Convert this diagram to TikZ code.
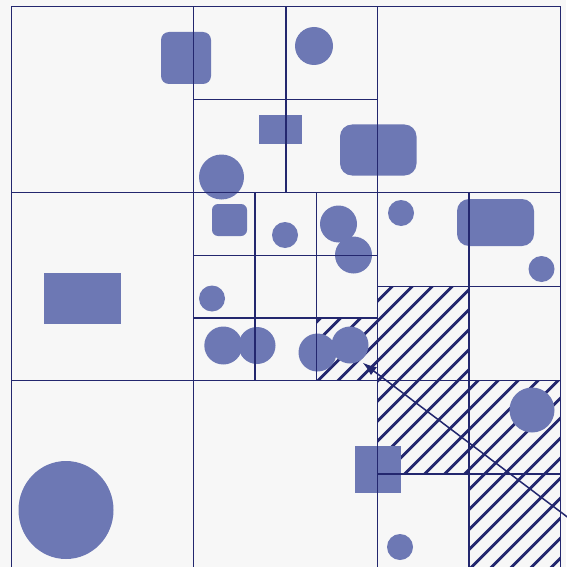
\documentclass[tikz,border=0pt]{standalone}
\usepackage{tikz}
\usetikzlibrary{arrows.meta}
\definecolor{navy}{HTML}{23276E}
\definecolor{blob}{HTML}{6D78B4}
\definecolor{paper}{HTML}{F7F7F7}
\tikzset{cellline/.style={draw=navy,line width=1.5pt},hatchline/.style={draw=navy,line width=2.9pt},arr/.style={-{Latex[length=14pt,width=10pt]},draw=navy,line width=1.5pt}}
\begin{document}
\begin{tikzpicture}[x=1pt,y=-1pt,
blob/.style={fill=blob},
rblob/.style={fill=blob,rounded corners=#1}]
\fill[paper] (0,0) rectangle (566,567);
\useasboundingbox (0,0) rectangle (566,567);
\begin{scope}
\clip (316.3,318) rectangle (377.7,380.7) (377.7,286.7) rectangle (469,380.7) (377.7,380.7) rectangle (469,474) (469,380.7) rectangle (560.3,474) (469,474) rectangle (560.3,569);
\foreach \k in {-3,...,23} \draw[hatchline] ({678.6+20*\k-600},600) -- ({678.6+20*\k},0);
\end{scope}
\fill[rblob=8pt] (161,32) rectangle (211,84);
\fill[blob] (314,46) circle[radius=19pt];
\fill[blob] (259,115) rectangle (302,144);
\fill[rblob=12pt] (340,124.5) rectangle (416.5,175.5);
\fill[blob] (221.5,177) circle[radius=22.5pt];
\fill[rblob=6pt] (212,204) rectangle (247,236);
\fill[blob] (285,235) circle[radius=13pt];
\fill[blob] (338.5,224) circle[radius=18.5pt];
\fill[blob] (353.5,255) circle[radius=18.5pt];
\fill[blob] (401,213) circle[radius=13pt];
\fill[rblob=12pt] (457,199) rectangle (534,246);
\fill[blob] (541.5,269) circle[radius=13pt];
\fill[blob] (44,273) rectangle (121,324);
\fill[blob] (212,298.5) circle[radius=13pt];
\fill[blob] (223.3,345.5) circle[radius=19pt];
\fill[blob] (257,345.5) circle[radius=18.5pt];
\fill[blob] (317.5,352.5) circle[radius=19pt];
\fill[blob] (350,345) circle[radius=18.5pt];
\fill[blob] (532,410) circle[radius=22.5pt];
\fill[blob] (355.3,446.3) rectangle (401.3,493);
\fill[blob] (400,547) circle[radius=13pt];
\fill[blob] (66,510) ellipse[x radius=47.5pt,y radius=49pt];
\draw[cellline] (11.3,6.5) rectangle (560.3,569);
\draw[cellline] (193.3,6.5)--(193.3,569) (377.7,6.5)--(377.7,569) (11.3,192.7)--(560.3,192.7) (11.3,380.7)--(560.3,380.7);
\draw[cellline] (286,6.5)--(286,192.7) (193.3,99.3)--(377.7,99.3);
\draw[cellline] (254.8,192.7)--(254.8,380.7) (316.3,192.7)--(316.3,380.7) (193.3,255.4)--(377.7,255.4) (193.3,318)--(377.7,318);
\draw[cellline] (469,192.7)--(469,569) (377.7,286.7)--(560.3,286.7) (377.7,474)--(560.3,474);
\coordinate (tail) at (590,534.1);
\coordinate (tip) at (362.7,362.7);
\draw[arr] (tail)--(tip);
\end{tikzpicture}
\end{document}
